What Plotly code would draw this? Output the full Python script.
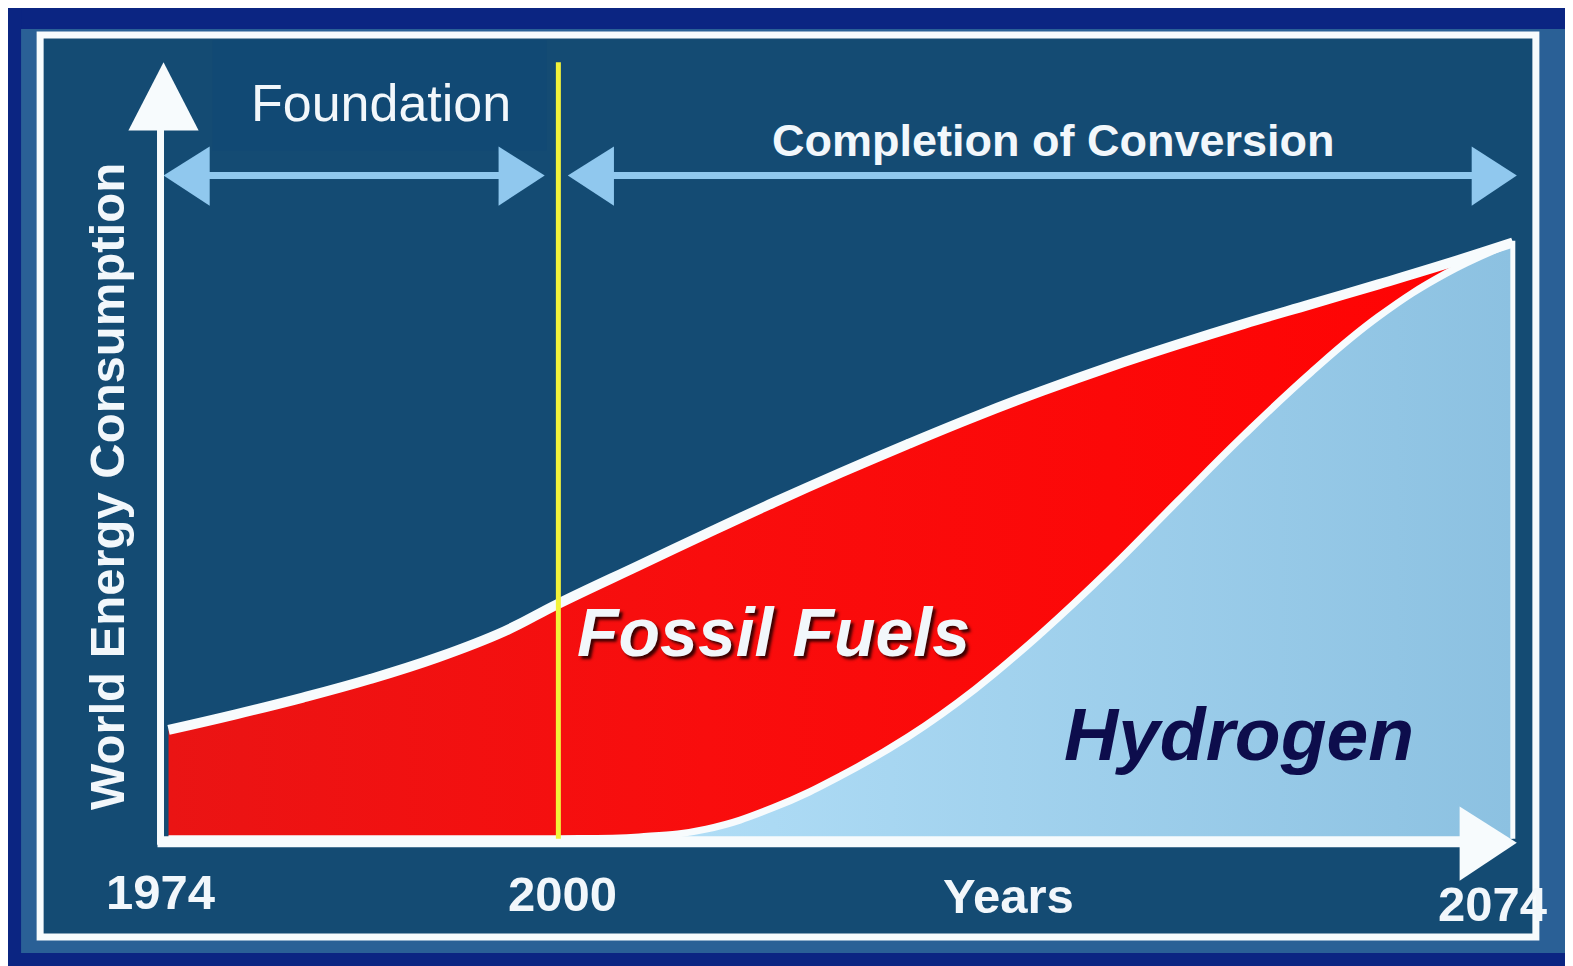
import plotly.graph_objects as go

# ---------------- data ----------------
# Position along the (non-linear) timeline: 0 = 1974, 29 = 2000, 100 = 2074
timeline = [0, 5, 10, 15, 20, 25, 29, 35, 40, 45, 50, 55, 60, 65, 70, 75, 80, 85, 90, 95, 100]
# Total world energy consumption (relative units)
total_energy = [18.2, 20.8, 23.6, 26.7, 30.3, 34.7, 39.3, 45.7, 51.0, 56.2, 61.2,
                66.0, 70.6, 74.9, 78.9, 82.6, 86.1, 89.4, 92.7, 96.1, 99.7]
# Hydrogen share of consumption (relative units)
hydrogen = [0, 0, 0, 0, 0, 0, 0, 0.3, 1.6, 5.2, 10.5,
            17.0, 25.0, 34.5, 45.0, 56.3, 67.5, 78.0, 87.3, 94.5, 99.7]

tick_labels = ["1974", "2000", "2074"]
tick_positions = [0, 29, 100]
phase_labels = ["Foundation", "Completion of Conversion"]
series_labels = ["Fossil Fuels", "Hydrogen"]
axis_titles = ["Years", "World Energy Consumption"]

# ---------------- geometry helpers ----------------
W, H = 1573, 966
S = 1573 / 1568.0
OFF = 8  # page body margin


def X(p):
    return (p * S - OFF) / W


def Y(p):
    return 1 - (p * S - OFF) / H


X0, X100 = 168 * S - OFF, 1508 * S - OFF
Y0, Y100 = 836 * S - OFF, 240 * S - OFF
kx = (X100 - X0) / 100.0
ky = (Y0 - Y100) / 100.0
x_range = [-X0 / kx, (W - X0) / kx]
y_range = [-(H - Y0) / ky, Y0 / ky]

FONT = "Liberation Sans, Arial, sans-serif"
NAVY = "#0b2582"
STEEL = "#2a6096"
PANEL = "#144b73"
ARROW = "#90c8ee"
WHITE = "#f7fbfd"
SMOOTH = 1.2

fig = go.Figure()

fig.add_trace(go.Scatter(
    x=timeline, y=hydrogen, mode="lines", fill="tozeroy",
    line=dict(width=0, shape="spline", smoothing=SMOOTH),
    fillgradient=dict(type="horizontal",
                      colorscale=[[0, "#c6ebfc"], [0.45, "#acdaf4"], [1, "#8cc1e1"]]),
    hoverinfo="skip", showlegend=False, name=series_labels[1]))
fig.add_trace(go.Scatter(
    x=timeline, y=total_energy, mode="lines", fill="tonexty",
    line=dict(width=0, shape="spline", smoothing=SMOOTH),
    fillgradient=dict(type="horizontal",
                      colorscale=[[0, "#ea1414"], [0.4, "#f90d0d"], [1, "#ff0303"]]),
    hoverinfo="skip", showlegend=False, name=series_labels[0]))
fig.add_trace(go.Scatter(
    x=timeline, y=hydrogen, mode="lines",
    line=dict(width=7, color=WHITE, shape="spline", smoothing=SMOOTH),
    hoverinfo="skip", showlegend=False))
fig.add_trace(go.Scatter(
    x=timeline, y=total_energy, mode="lines",
    line=dict(width=10, color=WHITE, shape="spline", smoothing=SMOOTH),
    hoverinfo="skip", showlegend=False))

shapes = []


def rect(x0, y0, x1, y1, color, layer="below", line=None):
    shapes.append(dict(type="rect", xref="paper", yref="paper",
                       x0=X(x0), x1=X(x1), y0=Y(y1), y1=Y(y0),
                       fillcolor=color, line=line or dict(width=0), layer=layer))


def tri(pts, color):
    path = "M " + " L ".join(f"{X(a)},{Y(b)}" for a, b in pts) + " Z"
    shapes.append(dict(type="path", xref="paper", yref="paper", path=path,
                       fillcolor=color, line=dict(width=0), layer="above"))


def seg(x0, y0, x1, y1, color, width):
    shapes.append(dict(type="line", xref="paper", yref="paper",
                       x0=X(x0), y0=Y(y0), x1=X(x1), y1=Y(y1),
                       line=dict(color=color, width=width), layer="above"))


# outer frame
rect(8, 8, 1580, 29, NAVY)
rect(8, 8, 21, 980, NAVY)
rect(8, 950, 1580, 980, NAVY)
rect(40, 35, 1531, 934, PANEL, line=dict(color=WHITE, width=7))
# subtle box behind "Foundation"
rect(212, 40, 545, 150, "#114974")

# double arrows
seg(205, 175, 502, 175, ARROW, 7)
tri([(163, 175), (209, 146), (209, 205)], ARROW)
tri([(543, 175), (497, 146), (497, 205)], ARROW)
seg(608, 175, 1472, 175, ARROW, 7)
tri([(566, 175), (612, 146), (612, 205)], ARROW)
tri([(1512, 175), (1467, 146), (1467, 205)], ARROW)

# axes (white arrows)
seg(160, 842, 160, 125, WHITE, 7)
tri([(163, 62), (128, 130), (198, 130)], WHITE)
seg(157, 839, 1462, 839, WHITE, 11)
tri([(1512, 840), (1455, 804), (1455, 878)], WHITE)
# right edge of hydrogen area
seg(1508, 240, 1508, 836, WHITE, 5)

# yellow 2000 marker
shapes.append(dict(type="line", xref="x", yref="paper",
                   x0=tick_positions[1], x1=tick_positions[1],
                   y0=Y(836), y1=Y(62),
                   line=dict(color="#f2f23a", width=5), layer="above"))

ann = []


def text(t, x, y, size, color="#f2f7fb", weight="bold", style="normal",
         angle=0, shadow="none"):
    ann.append(dict(text=t, x=X(x), y=Y(y), xref="paper", yref="paper",
                    showarrow=False, xanchor="center", yanchor="middle",
                    textangle=angle,
                    font=dict(family=FONT, size=size, color=color,
                              weight=weight, style=style, shadow=shadow)))


text(phase_labels[0], 380, 103, 52, weight="normal")
text(phase_labels[1], 1050, 140, 45)
text(axis_titles[1], 106, 485, 49, angle=-90)
text(axis_titles[0], 1005, 893, 49)
label_px = [160, 561, 1488]
label_py = [889, 891, 901]
for lab, lx, ly in zip(tick_labels, label_px, label_py):
    text(lab, lx, ly, 49)
text(series_labels[0], 771, 630, 68, style="italic",
     shadow="3px 3px 3px rgba(50,0,0,0.95)")
text(series_labels[1], 1235, 732, 75, color="#0d0d4c", style="italic")

fig.update_layout(
    width=W, height=H, autosize=False,
    margin=dict(l=0, r=0, t=0, b=0),
    paper_bgcolor=STEEL, plot_bgcolor="rgba(0,0,0,0)",
    xaxis=dict(range=x_range, visible=False, fixedrange=True),
    yaxis=dict(range=y_range, visible=False, fixedrange=True),
    shapes=shapes, annotations=ann, showlegend=False,
)

fig.write_html("out.html")
